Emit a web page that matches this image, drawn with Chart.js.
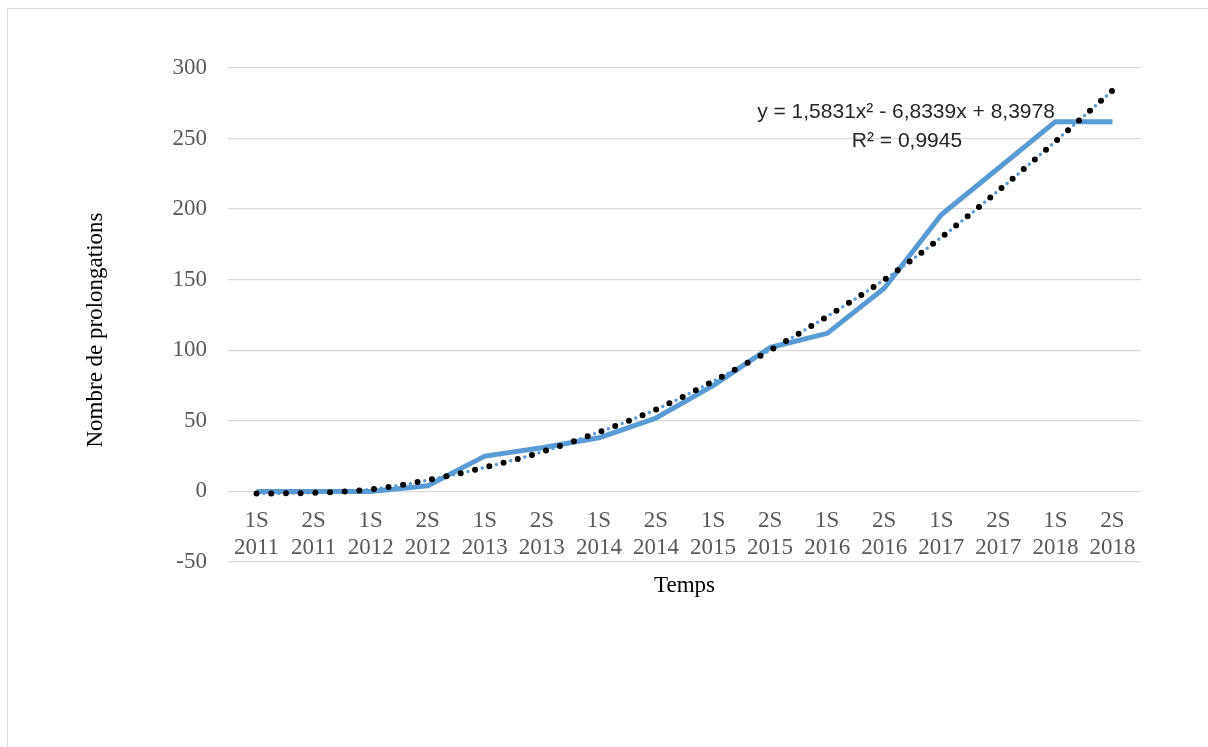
<!DOCTYPE html>
<html>
<head>
<meta charset="utf-8">
<script src="https://cdn.jsdelivr.net/npm/chart.js@4"></script>
<style>
  body { margin: 0; background: #fff; overflow: hidden; }
  #frame { position: absolute; left: 7px; top: 8px; width: 1400px; height: 1000px; border: 1.5px solid #d9d9d9; }
  #prolongChart { position: absolute; left: 0; top: 0; }
</style>
</head>
<body>
<div id="frame"></div>
<canvas id="prolongChart" width="1208" height="747"></canvas>
<script>
const labels = [
  ["1S", "2011"], ["2S", "2011"], ["1S", "2012"], ["2S", "2012"],
  ["1S", "2013"], ["2S", "2013"], ["1S", "2014"], ["2S", "2014"],
  ["1S", "2015"], ["2S", "2015"], ["1S", "2016"], ["2S", "2016"],
  ["1S", "2017"], ["2S", "2017"], ["1S", "2018"], ["2S", "2018"],
];
const prolongations = [0, 0, 0, 4, 25, 31, 38, 52, 75, 102, 112, 144, 196, 229, 262, 262];
// polynomial trendline as drawn in the picture
const trendValues = [-1.5, -1, 1.5, 8, 17, 28, 42, 58, 78, 100, 124, 150, 180, 213, 248, 284];
const yTicks = [-50, 0, 50, 100, 150, 200, 250, 300];
const trendLabel = ["y = 1,5831x² - 6,8339x + 8,3978", "R² = 0,9945"];

const serif = "'Liberation Serif', 'Times New Roman', serif";

const textPlugin = {
  id: "texts",
  afterDraw(chart) {
    const ctx = chart.ctx;
    ctx.save();
    ctx.fillStyle = "#262626";
    ctx.font = "21px 'Liberation Sans', Arial, sans-serif";
    ctx.textAlign = "center";
    ctx.textBaseline = "middle";
    ctx.fillText(trendLabel[0], 906, 112);
    ctx.fillText(trendLabel[1], 907, 141);
    ctx.restore();

    ctx.save();
    ctx.fillStyle = "#000";
    ctx.font = "23px " + serif;
    ctx.translate(96, 330);
    ctx.rotate(-Math.PI / 2);
    ctx.textAlign = "center";
    ctx.textBaseline = "middle";
    ctx.fillText("Nombre de prolongations", 0, 0);
    ctx.restore();
  },
};

const ctx = document.getElementById("prolongChart").getContext("2d");

const ProlongChart = new Chart(ctx, {
  type: "line",
  data: {
    labels: labels,
    datasets: [
      {
        label: "Tendance",
        data: trendValues,
        borderColor: "#000",
        borderWidth: 6,
        borderDash: [0, 14.7],
        borderCapStyle: "round",
        pointRadius: 0,
        cubicInterpolationMode: "monotone",
        order: 0,
      },
      {
        label: "Tendance (bleu)",
        data: trendValues,
        borderColor: "#5b9bd5",
        borderWidth: 3.5,
        borderDash: [0, 14.7],
        borderDashOffset: 7.35,
        borderCapStyle: "round",
        pointRadius: 0,
        cubicInterpolationMode: "monotone",
        order: 1,
      },
      {
        label: "Nombre de prolongations",
        data: prolongations,
        borderColor: "#5b9bd5",
        borderWidth: 5,
        borderJoinStyle: "round",
        pointRadius: 0,
        tension: 0,
        order: 2,
      },
    ],
  },
  options: {
    responsive: false,
    animation: false,
    layout: {
      padding: { left: 0, right: 67, top: 68, bottom: 185 },
    },
    plugins: {
      legend: { display: false },
      tooltip: { enabled: false },
    },
    scales: {
      x: {
        position: { y: 0 },
        offset: true,
        grid: { display: false, drawTicks: false },
        border: { display: false },
        ticks: {
          color: "#595959",
          font: { family: serif, size: 23, lineHeight: "27px" },
          padding: 16,
          maxRotation: 0,
          autoSkip: false,
        },
        title: {
          display: true,
          text: "Temps",
          color: "#000",
          font: { family: serif, size: 23, lineHeight: 1.2 },
          padding: { top: 4, bottom: 4 },
        },
        afterFit(scale) {
          scale.height = 112;
        },
      },
      y: {
        min: -50,
        max: 300,
        grid: { color: "#d9d9d9", lineWidth: 1.3, drawTicks: false },
        border: { display: false },
        afterBuildTicks(scale) {
          scale.ticks = yTicks.map((v) => ({ value: v }));
        },
        ticks: {
          color: "#595959",
          font: { family: serif, size: 23 },
          padding: 21,
        },
        afterFit(scale) {
          scale.width = 228;
        },
      },
    },
  },
  plugins: [textPlugin],
});
</script>
</body>
</html>
